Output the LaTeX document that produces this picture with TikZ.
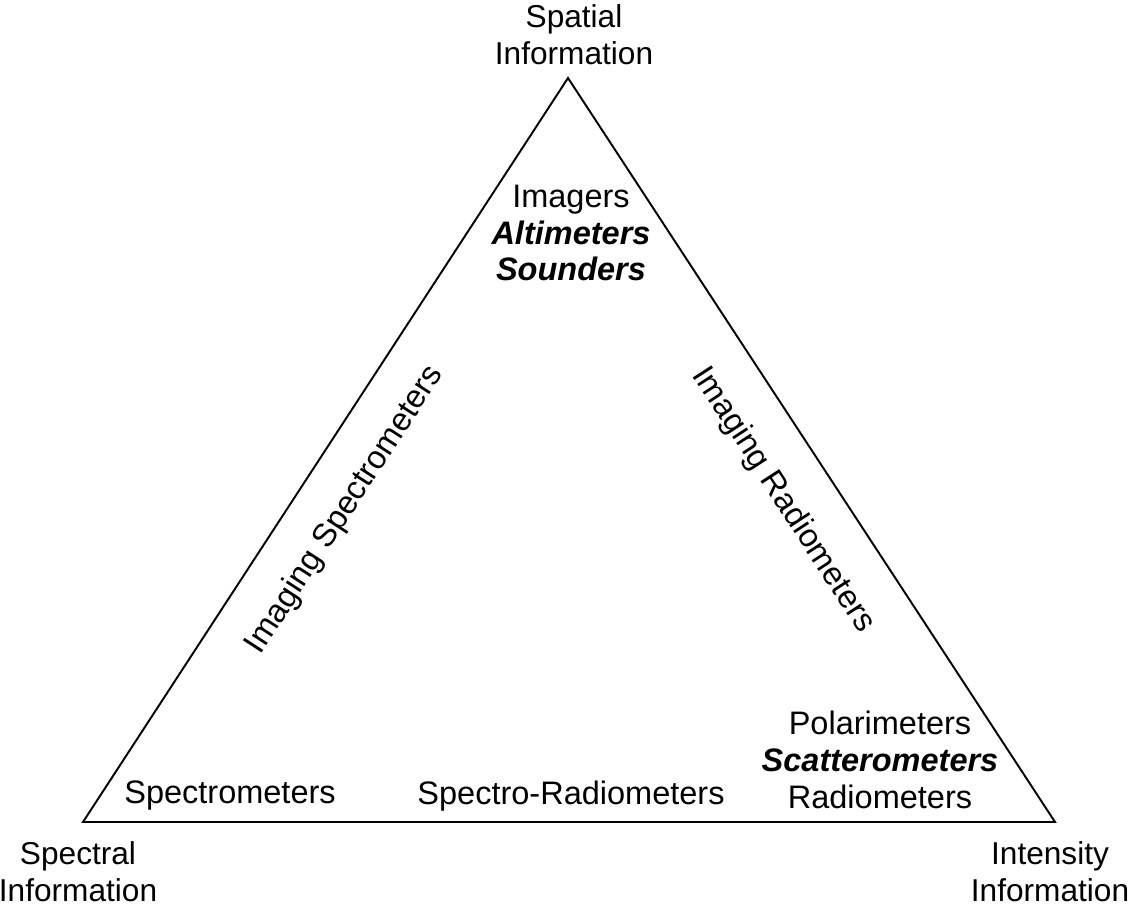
\documentclass[tikz,border=0pt]{standalone}
\usepackage{fontspec}
\setmainfont{Liberation Sans}
\usepackage{tikz}
\usetikzlibrary{calc}

\begin{document}
\begin{tikzpicture}[x=0.02cm,y=-0.02cm,
    lbl/.style={align=center,inner sep=0pt,font=\fontsize{18.5}{21}\selectfont},
    corner/.style={align=center,inner sep=0pt,font=\fontsize{18}{21}\selectfont},
    side/.style={inner sep=0pt,font=\fontsize{18.5}{21}\selectfont}]
  \useasboundingbox (0,0) rectangle (1139,905);
  % corners of the triangle
  \coordinate (top) at (568,78);
  \coordinate (left) at (83,822);
  \coordinate (right) at (1055,822);
  \draw[line width=1.1pt,line join=miter] (top)--(right)--(left)--cycle;
  % corner labels
  \node[corner] (spatial) at (574,35) {Spatial\\Information};
  \node[corner] (spectral) at (78,872) {Spectral\\Information};
  \node[corner] (intensity) at (1050,872) {Intensity\\Information};
  % instruments
  \node[lbl] (imagers) at (571,233) {Imagers\\\textbf{\textit{Altimeters}}\\\textbf{\textit{Sounders}}};
  \node[lbl] (polar) at (880,760) {Polarimeters\\\textbf{\textit{Scatterometers}}\\Radiometers};
  \node[side] (spectro) at (230,796) {Spectrometers};
  \node[side] (specrad) at (571,796) {Spectro-Radiometers};
  % along the sides
  \node[side,rotate=57] (imgspec) at (345,510) {Imaging Spectrometers};
  \node[side,rotate=-57] (imgrad) at (783,500) {Imaging Radiometers};
\end{tikzpicture}
\end{document}
